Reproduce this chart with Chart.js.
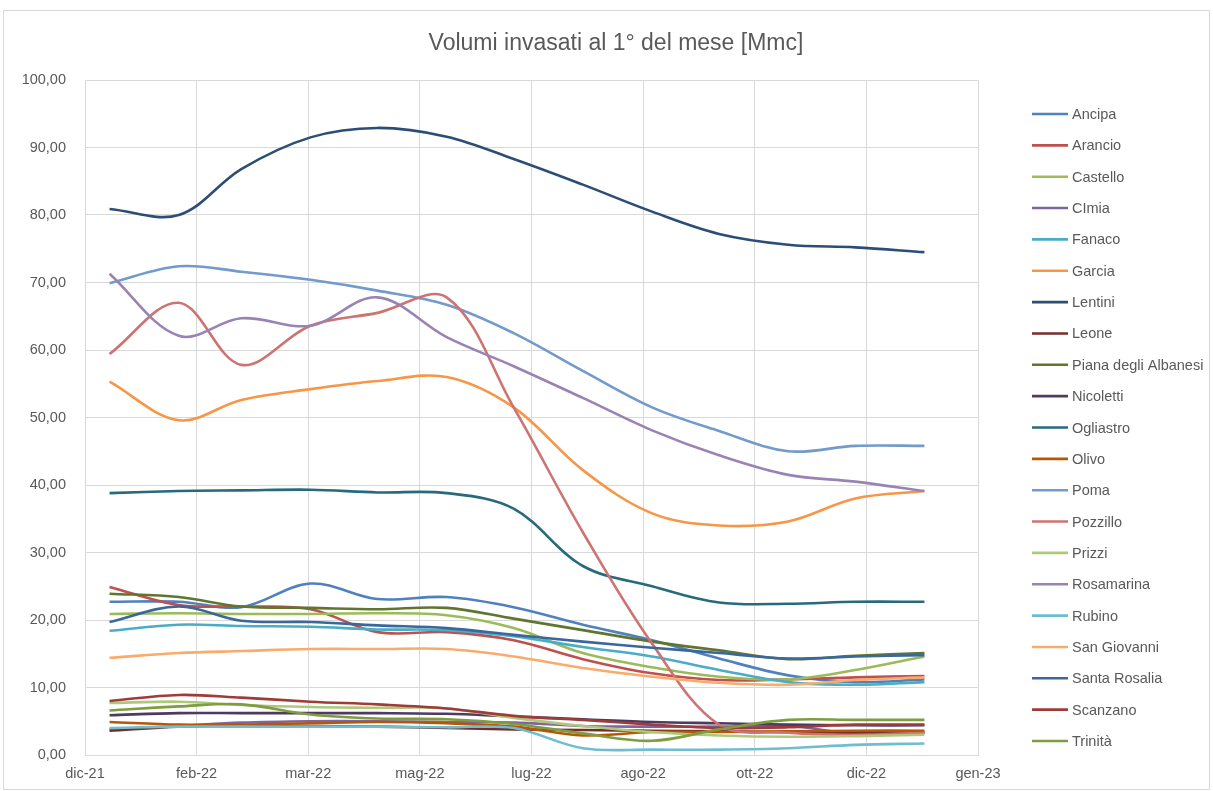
<!DOCTYPE html>
<html><head><meta charset="utf-8">
<script src="https://cdn.jsdelivr.net/npm/chart.js@4.4.1/dist/chart.umd.min.js"></script>
<style>html,body{margin:0;padding:0;background:#fff;}</style>
</head><body>
<canvas id="c" width="1213" height="791"></canvas>
<script>
// ---- data ----
const months = ['2022-01-01','2022-02-01','2022-03-01','2022-04-01','2022-05-01','2022-06-01','2022-07-01','2022-08-01','2022-09-01','2022-10-01','2022-11-01','2022-12-01','2023-01-01'];
const axisStart = '2021-12-21';
const xTickLabels = ['dic-21','feb-22','mar-22','mag-22','lug-22','ago-22','ott-22','dic-22','gen-23'];
const chartTitle = 'Volumi invasati al 1° del mese [Mmc]';

const seriesNames = ['Ancipa','Arancio','Castello','CImia','Fanaco','Garcia','Lentini','Leone','Piana degli Albanesi','Nicoletti','Ogliastro','Olivo','Poma','Pozzillo','Prizzi','Rosamarina','Rubino','San Giovanni','Santa Rosalia','Scanzano','Trinità'];

const ancipa       = [22.7, 22.7, 21.9, 25.4, 23.1, 23.4, 21.9, 19.3, 17.0, 14.3, 11.8, 10.8, 11.2];
const arancio      = [24.9, 22.2, 22.0, 21.6, 18.2, 18.2, 17.0, 14.2, 12.1, 11.1, 11.2, 11.5, 11.7];
const castello     = [20.9, 21.0, 20.9, 20.9, 21.0, 20.7, 18.8, 15.1, 13.0, 11.6, 11.2, 12.6, 14.6];
const cimia        = [3.8, 4.3, 4.8, 5.0, 5.0, 4.9, 4.8, 4.3, 4.2, 4.2, 4.3, 3.2, 3.4];
const fanaco       = [18.4, 19.3, 19.1, 19.0, 18.6, 18.5, 17.6, 16.0, 14.6, 12.6, 10.8, 10.4, 10.8];
const garcia       = [55.3, 49.6, 52.6, 54.2, 55.4, 56.0, 51.5, 42.2, 35.8, 34.0, 34.6, 38.0, 39.1];
const lentini      = [80.9, 80.0, 86.8, 91.5, 92.9, 91.6, 88.3, 84.5, 80.5, 77.2, 75.6, 75.2, 74.5];
const leone        = [3.6, 4.2, 4.3, 4.3, 4.2, 4.0, 3.8, 3.7, 3.6, 3.5, 3.4, 3.3, 3.3];
const pianaAlbanesi= [23.9, 23.4, 22.0, 21.8, 21.6, 21.8, 20.2, 18.5, 16.8, 15.5, 14.2, 14.7, 15.1];
const nicoletti    = [5.9, 6.2, 6.2, 6.2, 6.2, 6.1, 5.7, 5.3, 4.9, 4.7, 4.5, 4.4, 4.4];
const ogliastro    = [38.8, 39.1, 39.2, 39.3, 38.9, 38.8, 36.5, 28.0, 25.0, 22.6, 22.4, 22.7, 22.7];
const olivo        = [4.9, 4.5, 4.5, 4.7, 4.9, 4.7, 4.2, 2.9, 3.4, 3.4, 3.5, 3.6, 3.6];
const poma         = [69.9, 72.4, 71.6, 70.4, 68.8, 66.7, 62.5, 56.9, 51.5, 48.0, 45.0, 45.8, 45.8];
const pozzillo     = [59.4, 67.0, 57.8, 63.6, 65.5, 67.8, 51.5, 33.0, 16.5, 4.5, 3.3, 3.0, 3.3];
const prizzi       = [7.7, 7.9, 7.4, 7.1, 7.0, 6.9, 5.5, 4.3, 3.4, 2.9, 2.7, 2.8, 3.0];
const rosamarina   = [71.3, 62.1, 64.7, 63.6, 67.8, 61.9, 57.6, 52.9, 48.1, 44.4, 41.5, 40.5, 39.1];
const rubino       = [4.0, 4.2, 4.2, 4.2, 4.2, 4.1, 4.0, 1.0, 0.8, 0.8, 1.0, 1.5, 1.7];
const sanGiovanni  = [14.4, 15.1, 15.4, 15.7, 15.7, 15.7, 14.6, 12.9, 11.6, 10.7, 10.4, 11.1, 11.5];
const santaRosalia = [19.7, 22.0, 19.9, 19.7, 19.2, 18.8, 17.8, 16.8, 15.9, 15.1, 14.3, 14.6, 14.8];
const scanzano     = [8.0, 8.9, 8.5, 7.9, 7.5, 6.9, 5.8, 5.2, 4.5, 4.0, 4.1, 4.5, 4.5];
const trinita      = [6.6, 7.2, 7.5, 6.0, 5.4, 5.3, 4.6, 3.2, 2.1, 3.8, 5.2, 5.2, 5.2];

const seriesValues = [ancipa, arancio, castello, cimia, fanaco, garcia, lentini, leone, pianaAlbanesi, nicoletti, ogliastro, olivo, poma, pozzillo, prizzi, rosamarina, rubino, sanGiovanni, santaRosalia, scanzano, trinita];
const seriesColors = ['#4F81BD','#C0504D','#9BBB59','#8064A2','#4BACC6','#F79646','#2C4D75','#772C2A','#5F7530','#4D3B62','#276A7C','#B65708','#729ACA','#CD7371','#AFC97A','#9983B5','#6FBDD1','#F9AB6B','#3A679C','#9F3B38','#7E9C40'];

// ---- build ----
const DAY = 86400000;
const t0 = Date.parse(axisStart + 'T00:00:00Z');
const xDays = months.map(m => (Date.parse(m + 'T00:00:00Z') - t0) / DAY);

const N = seriesNames.length;
const datasets = seriesNames.map((name, i) => ({
  label: name,
  data: seriesValues[i].map((v, j) => ({x: xDays[j], y: v})),
  borderColor: seriesColors[i],
  backgroundColor: seriesColors[i],
  borderWidth: 2.6,
  pointRadius: 0,
  pointHoverRadius: 0,
  tension: 0.35,
  fill: false,
  order: N - 1 - i
}));

const FONT = "'Liberation Sans', Arial, sans-serif";
const TXT = '#595959';
const GRID = '#D9D9D9';

const decor = {
  id: 'decor',
  beforeDraw(chart) {
    const ctx = chart.ctx;
    ctx.save();
    ctx.fillStyle = '#fff';
    ctx.fillRect(0, 0, chart.width, chart.height);
    ctx.strokeStyle = GRID;
    ctx.lineWidth = 1;
    ctx.strokeRect(3.5, 10.5, 1206, 779);
    ctx.restore();
  },
  afterDraw(chart) {
    const ctx = chart.ctx;
    ctx.save();
    ctx.fillStyle = TXT;
    ctx.font = "23px " + FONT;
    ctx.textAlign = 'center';
    ctx.textBaseline = 'middle';
    ctx.fillText(chartTitle, 616, 44);
    // legend
    ctx.font = "14.5px " + FONT;
    ctx.textAlign = 'left';
    chart.data.datasets.forEach((ds, i) => {
      const y = 114 + i * 31.35;
      ctx.strokeStyle = ds.borderColor;
      ctx.lineWidth = 2.6;
      ctx.beginPath();
      ctx.moveTo(1032, y);
      ctx.lineTo(1068, y);
      ctx.stroke();
      ctx.fillStyle = TXT;
      ctx.fillText(ds.label, 1072, y + 1);
    });
    ctx.restore();
  }
};

new Chart(document.getElementById('c'), {
  type: 'line',
  data: { datasets },
  plugins: [decor],
  options: {
    responsive: false,
    animation: false,
    events: [],
    layout: { padding: { left: 0, right: 235, top: 80, bottom: 0 } },
    plugins: { legend: { display: false }, title: { display: false }, tooltip: { enabled: false } },
    scales: {
      x: {
        type: 'linear',
        min: 0, max: 400,
        afterFit(s) { s.height = 36; },
        ticks: {
          stepSize: 50, autoSkip: false, maxRotation: 0, padding: 10,
          color: TXT, font: { family: FONT, size: 14.5 },
          callback: (v, i) => xTickLabels[i]
        },
        grid: { color: GRID, lineWidth: 1, drawTicks: false },
        border: { color: GRID, width: 1 }
      },
      y: {
        min: 0, max: 100,
        afterFit(s) { s.width = 85; },
        ticks: {
          stepSize: 10, padding: 19,
          color: TXT, font: { family: FONT, size: 14.5 },
          callback: v => Number(v).toFixed(2).replace('.', ',')
        },
        grid: { color: GRID, lineWidth: 1, drawTicks: false },
        border: { display: false }
      }
    }
  }
});
</script>
</body></html>
